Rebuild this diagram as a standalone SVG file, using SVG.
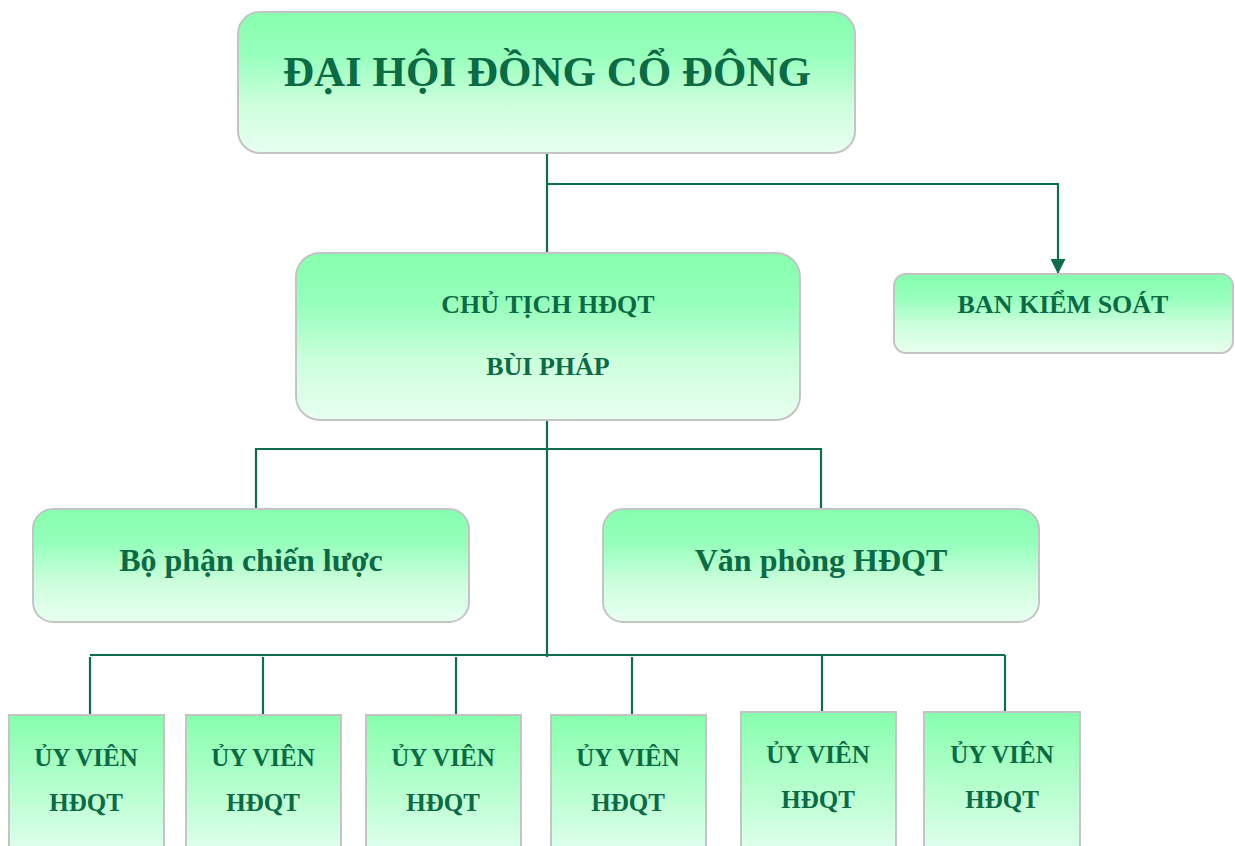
<svg xmlns="http://www.w3.org/2000/svg" width="1235" height="846" viewBox="0 0 1235 846">
  <style>
    .box { stroke: #c4c4c4; stroke-width: 2; }
    .lbl { font-family: "Liberation Serif", "Times New Roman", serif; font-weight: bold; fill: #0b6b45; text-anchor: middle; }
    .conn { fill: none; stroke: #0e6e4a; stroke-width: 2.2; }
  </style>
  <defs>
    <linearGradient id="g" x1="0" y1="0" x2="0" y2="1">
      <stop offset="0" stop-color="#86ffae"/>
      <stop offset="0.3" stop-color="#96ffbb"/>
      <stop offset="0.65" stop-color="#ccffdc"/>
      <stop offset="1" stop-color="#e8fff0"/>
    </linearGradient>
    <linearGradient id="gb" x1="0" y1="0" x2="0" y2="1">
      <stop offset="0" stop-color="#86ffae"/>
      <stop offset="0.5" stop-color="#b4ffcc"/>
      <stop offset="1" stop-color="#e2fff0"/>
    </linearGradient>
    <marker id="arr" markerUnits="userSpaceOnUse" markerWidth="16" markerHeight="16" refX="15" refY="7.5" orient="auto">
      <path d="M0,0 L15,7.5 L0,15 z" fill="#0e6e4a"/>
    </marker>
  </defs>
  <rect width="1235" height="846" fill="#ffffff"/>

  <g id="connectors">
    <path class="conn" d="M547 153 V253"/>
    <path class="conn" d="M547 184 H1058 V274" marker-end="url(#arr)"/>
    <path class="conn" d="M547 420 V657"/>
    <path class="conn" d="M256 509 V449 H821 V509"/>
    <path class="conn" d="M90 655 H1005"/>
    <path class="conn" d="M90 657 V715"/>
    <path class="conn" d="M263 657 V715"/>
    <path class="conn" d="M456 657 V715"/>
    <path class="conn" d="M632 657 V715"/>
    <path class="conn" d="M822 655 V712"/>
    <path class="conn" d="M1005 655 V712"/>
  </g>

  <g id="dhdcd">
    <rect class="box" x="238" y="12" width="617" height="141" rx="22" fill="url(#g)"/>
    <text class="lbl" x="547" y="86" font-size="43">ĐẠI HỘI ĐỒNG CỔ ĐÔNG</text>
  </g>

  <g id="bks">
    <rect class="box" x="894" y="274" width="339" height="79" rx="12" fill="url(#g)"/>
    <text class="lbl" x="1063" y="313" font-size="26">BAN KIỂM SOÁT</text>
  </g>

  <g id="chutich">
    <rect class="box" x="296" y="253" width="504" height="167" rx="24" fill="url(#g)"/>
    <text class="lbl" x="548" y="313" font-size="26">CHỦ TỊCH HĐQT</text>
    <text class="lbl" x="548" y="375" font-size="26">BÙI PHÁP</text>
  </g>

  <g id="bophan">
    <rect class="box" x="33" y="509" width="436" height="113" rx="20" fill="url(#g)"/>
    <text class="lbl" x="251" y="571" font-size="32">Bộ phận chiến lược</text>
  </g>

  <g id="vanphong">
    <rect class="box" x="603" y="509" width="436" height="113" rx="20" fill="url(#g)"/>
    <text class="lbl" x="821" y="571" font-size="32">Văn phòng HĐQT</text>
  </g>

  <g id="uv1">
    <rect class="box" x="9" y="715" width="155" height="140" fill="url(#gb)"/>
    <text class="lbl" x="86" y="766" font-size="25">ỦY VIÊN</text>
    <text class="lbl" x="86" y="811" font-size="25">HĐQT</text>
  </g>
  <g id="uv2">
    <rect class="box" x="186" y="715" width="155" height="140" fill="url(#gb)"/>
    <text class="lbl" x="263" y="766" font-size="25">ỦY VIÊN</text>
    <text class="lbl" x="263" y="811" font-size="25">HĐQT</text>
  </g>
  <g id="uv3">
    <rect class="box" x="366" y="715" width="155" height="140" fill="url(#gb)"/>
    <text class="lbl" x="443" y="766" font-size="25">ỦY VIÊN</text>
    <text class="lbl" x="443" y="811" font-size="25">HĐQT</text>
  </g>
  <g id="uv4">
    <rect class="box" x="551" y="715" width="155" height="140" fill="url(#gb)"/>
    <text class="lbl" x="628" y="766" font-size="25">ỦY VIÊN</text>
    <text class="lbl" x="628" y="811" font-size="25">HĐQT</text>
  </g>
  <g id="uv5">
    <rect class="box" x="741" y="712" width="155" height="143" fill="url(#gb)"/>
    <text class="lbl" x="818" y="763" font-size="25">ỦY VIÊN</text>
    <text class="lbl" x="818" y="808" font-size="25">HĐQT</text>
  </g>
  <g id="uv6">
    <rect class="box" x="924" y="712" width="156" height="143" fill="url(#gb)"/>
    <text class="lbl" x="1002" y="763" font-size="25">ỦY VIÊN</text>
    <text class="lbl" x="1002" y="808" font-size="25">HĐQT</text>
  </g>
</svg>
